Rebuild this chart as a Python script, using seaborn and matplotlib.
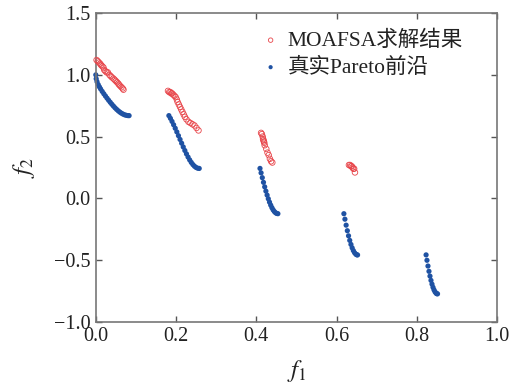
import matplotlib
matplotlib.use("Agg")
import matplotlib.pyplot as plt
import seaborn as sns
import pandas as pd

# MOAFSA solutions (f1, f2)
moafsa_f1 = [0.002, 0.005, 0.008, 0.011, 0.013, 0.016, 0.019, 0.021, 0.024, 0.027,
             0.030, 0.034, 0.037, 0.040, 0.044, 0.047, 0.050, 0.053, 0.056, 0.058,
             0.061, 0.064, 0.067, 0.069,
             0.180, 0.183, 0.186, 0.188, 0.190, 0.193, 0.196, 0.199, 0.202, 0.204,
             0.207, 0.210, 0.213, 0.216, 0.219, 0.222, 0.226, 0.231, 0.236, 0.241,
             0.246, 0.251, 0.256,
             0.412, 0.414, 0.416, 0.417, 0.418, 0.419, 0.420, 0.421, 0.425, 0.428,
             0.431, 0.434, 0.437, 0.440,
             0.631, 0.634, 0.636, 0.638, 0.640, 0.642, 0.644, 0.646]
moafsa_f2 = [1.12, 1.11, 1.10, 1.09, 1.08, 1.07, 1.06, 1.04, 1.03, 1.02,
             1.02, 1.00, 0.99, 0.98, 0.97, 0.96, 0.95, 0.94, 0.93, 0.92,
             0.91, 0.90, 0.89, 0.88,
             0.87, 0.86, 0.86, 0.85, 0.85, 0.84, 0.83, 0.82, 0.80, 0.78,
             0.76, 0.74, 0.72, 0.70, 0.68, 0.66, 0.64, 0.62, 0.61, 0.60,
             0.59, 0.57, 0.55,
             0.53, 0.52, 0.50, 0.48, 0.47, 0.46, 0.45, 0.43, 0.40, 0.37,
             0.35, 0.32, 0.30, 0.29,
             0.27, 0.27, 0.26, 0.26, 0.25, 0.24, 0.24, 0.21]

# True Pareto front samples (five disconnected pieces)
pareto_f1 = [0.000, 0.001, 0.003, 0.006, 0.009, 0.012, 0.016, 0.020, 0.024, 0.028,
             0.032, 0.036, 0.040, 0.044, 0.048, 0.052, 0.056, 0.060, 0.064, 0.068,
             0.072, 0.076, 0.080, 0.083,
             0.1822, 0.186, 0.190, 0.194, 0.198, 0.202, 0.206, 0.210, 0.214, 0.218,
             0.222, 0.226, 0.230, 0.234, 0.238, 0.242, 0.246, 0.250, 0.254, 0.2578,
             0.4093, 0.412, 0.415, 0.418, 0.421, 0.424, 0.427, 0.430, 0.433, 0.436,
             0.439, 0.442, 0.445, 0.448, 0.451, 0.4539,
             0.6184, 0.621, 0.624, 0.627, 0.630, 0.633, 0.636, 0.639, 0.642, 0.645,
             0.648, 0.6505, 0.6525,
             0.8233, 0.8255, 0.828, 0.8305, 0.833, 0.8355, 0.838, 0.8405, 0.843,
             0.8455, 0.848, 0.850, 0.8518]
pareto_f2 = [1.0000, 0.9684, 0.9449, 0.9214, 0.9026, 0.8860, 0.8658, 0.8468, 0.8287, 0.8111,
             0.7941, 0.7777, 0.7620, 0.7470, 0.7330, 0.7201, 0.7084, 0.6980, 0.6891, 0.6818,
             0.6762, 0.6723, 0.6701, 0.6697,
             0.6698, 0.6479, 0.6228, 0.5959, 0.5675, 0.5379, 0.5075, 0.4768, 0.4463, 0.4163,
             0.3873, 0.3599, 0.3344, 0.3112, 0.2909, 0.2737, 0.2600, 0.2500, 0.2440, 0.2422,
             0.2424, 0.2065, 0.1674, 0.1295, 0.0931, 0.0586, 0.0263, -0.0036, -0.0307, -0.0548,
             -0.0756, -0.0930, -0.1066, -0.1164, -0.1223, -0.1242,
             -0.1243, -0.1687, -0.2171, -0.2621, -0.3034, -0.3404, -0.3730, -0.4006, -0.4231,
             -0.4402, -0.4517, -0.4570, -0.4583,
             -0.4577, -0.5015, -0.5479, -0.5908, -0.6297, -0.6643, -0.6946, -0.7201, -0.7408,
             -0.7566, -0.7672, -0.7720, -0.7734]

x_ticks = [0.0, 0.2, 0.4, 0.6, 0.8, 1.0]
y_ticks = [-1.0, -0.5, 0.0, 0.5, 1.0, 1.5]
label_moafsa = "MOAFSA求解结果"
label_pareto = "真实Pareto前沿"

sns.set_theme(style="ticks")
plt.rcParams["font.family"] = ["Liberation Serif", "Noto Sans CJK SC"]
plt.rcParams["mathtext.fontset"] = "stix"

df_m = pd.DataFrame({"f1": moafsa_f1, "f2": moafsa_f2})
df_p = pd.DataFrame({"f1": pareto_f1, "f2": pareto_f2})

fig = plt.figure(figsize=(5.15, 3.85), dpi=100)
ax = fig.add_axes([0.186, 0.164, 0.779, 0.802])

red = "#e8454a"
blue = "#1f52a3"

sns.scatterplot(data=df_m, x="f1", y="f2", ax=ax, marker="o", s=16,
                facecolor="none", edgecolor=red, linewidth=0.6,
                label=label_moafsa, zorder=3, clip_on=False)
sns.scatterplot(data=df_p, x="f1", y="f2", ax=ax, marker="o", s=14,
                color=blue, edgecolor="none", linewidth=0,
                label=label_pareto, zorder=2, clip_on=False)

ax.set_xlim(0, 1.0)
ax.set_ylim(-1.0, 1.5)
ax.set_xticks(x_ticks)
ax.set_yticks(y_ticks)
ax.set_xticklabels([f"{v:.1f}" for v in x_ticks])
ax.set_yticklabels([f"{v:.1f}".replace("-", "\u2212") for v in y_ticks])
ax.tick_params(direction="in", top=True, right=True, length=4, width=1,
               color="#555555", labelsize=14.5, pad=4, labelcolor="#222222")
for sp in ax.spines.values():
    sp.set_color("#777777")
    sp.set_linewidth(1.2)

ax.set_xlabel("$f_1$", fontsize=18, labelpad=8, color="#222222")
ax.set_ylabel("$f_2$", fontsize=18, labelpad=12, color="#222222")

leg = ax.legend(loc="upper right", frameon=False, fontsize=15.5,
                handletextpad=0.1, borderaxespad=0.0, markerscale=0.8,
                labelspacing=0.32, handlelength=1.4,
                bbox_to_anchor=(0.937, 0.972))
for t in leg.get_texts():
    t.set_color("#222222")

fig.savefig("out.png", dpi=100)
